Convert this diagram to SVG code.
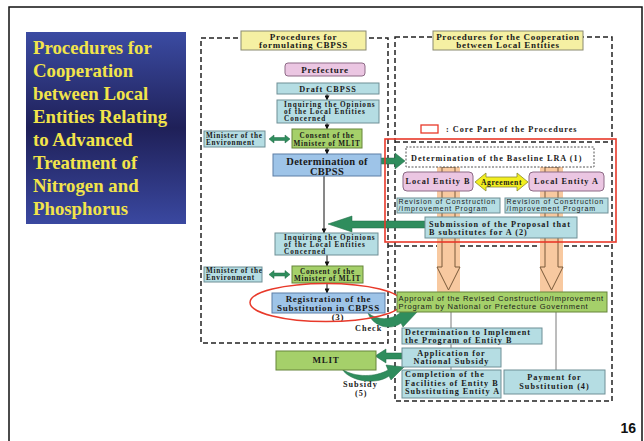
<svg xmlns="http://www.w3.org/2000/svg" width="644" height="441" viewBox="0 0 644 441">
  <defs>
    <linearGradient id="titleGrad" x1="0" y1="0" x2="0" y2="1">
      <stop offset="0" stop-color="#3b4ba2"/>
      <stop offset="0.5" stop-color="#1f2058"/>
      <stop offset="1" stop-color="#3a48a0"/>
    </linearGradient>
    <marker id="tip" viewBox="0 0 6 6" refX="5.5" refY="3" markerWidth="5" markerHeight="5" orient="auto">
      <path d="M0,0 L6,3 L0,6 Z" fill="#111"/>
    </marker>
    <style>
      .serif { font-family: "Liberation Serif", "Times New Roman", serif; font-weight: bold; fill: #1a1a1a; }
      .sans { font-family: "Liberation Sans", Arial, sans-serif; fill: #1a1a1a; }
      .s7 { font-size: 7.2px; letter-spacing: 0.95px; }
      .s7b { font-size: 7.2px; letter-spacing: 0.75px; }
      .s8 { font-size: 8.2px; letter-spacing: 1px; }
      .s9 { font-size: 9px; letter-spacing: 0.75px; }
      .s10 { font-size: 10.5px; letter-spacing: 0.3px; }
      .sa { font-size: 7px; letter-spacing: 0.9px; }
      .sa2 { font-size: 7.6px; letter-spacing: 0.7px; }
      .mid { text-anchor: middle; }
      .teal { fill: #b5dde3; stroke: #6f8f96; stroke-width: 1; }
      .green { fill: #a5d06a; stroke: #66853a; stroke-width: 1; }
      .blue { fill: #9ec4e8; stroke: #5d7ea6; stroke-width: 1; }
      .pink { fill: #ebc6e2; stroke: #8d6a86; stroke-width: 1; }
      .yellow { fill: #f5f0a3; stroke: #8a8a70; stroke-width: 1; }
      .dash { fill: none; stroke: #222; stroke-width: 1.5; stroke-dasharray: 5 3; }
      .flow { stroke: #111; stroke-width: 1; fill: none; marker-end: url(#tip); }
      .garrow { fill: #2f8d5d; stroke: #1f6a44; stroke-width: 0.5; }
      .core { fill: none; stroke: #e8392a; stroke-width: 1.6; }
      .bar { fill: #f8c9a0; }
      .hollow { fill: none; stroke: #7a5a3a; stroke-width: 1; }
      .gline { stroke: #7a7a7a; stroke-width: 1; }
    </style>
  </defs>

  <!-- slide frame -->
  <rect x="9" y="7" width="633" height="440" fill="#fff" stroke="#111" stroke-width="1.5"/>

  <!-- title panel -->
  <g id="title">
    <rect x="26" y="32" width="160" height="192" fill="url(#titleGrad)"/>
    <g font-family="'Liberation Serif', 'Times New Roman', serif" font-weight="bold" font-size="18.8" fill="#f2e44a">
      <text x="33" y="54">Procedures for</text>
      <text x="33" y="77">Cooperation</text>
      <text x="33" y="100">between Local</text>
      <text x="33" y="123">Entities Relating</text>
      <text x="33" y="146">to Advanced</text>
      <text x="33" y="169">Treatment of</text>
      <text x="33" y="192">Nitrogen and</text>
      <text x="33" y="215">Phosphorus</text>
    </g>
  </g>

  <!-- section frames -->
  <g id="frames">
    <rect class="dash" x="201" y="38" width="187" height="305"/>
    <rect class="dash" x="395" y="37" width="217" height="364"/>
    <line class="dash" x1="395" y1="142" x2="612" y2="142"/>
    <line class="dash" x1="388" y1="246" x2="612" y2="246"/>
  </g>

  <!-- hollow arrows from the two entities down to the approval -->
  <g id="flows-down">
    <rect class="bar" x="437" y="167" width="23" height="125"/>
    <path class="hollow" d="M442,167 H455 M442,167 V267 H437 L448.5,290 L460,267 H455 V167"/>
    <rect class="bar" x="540" y="167" width="23" height="125"/>
    <path class="hollow" d="M545,167 H558 M545,167 V267 H540 L551.5,290 L563,267 H558 V167"/>
  </g>

  <!-- connectors -->
  <g id="connectors">
    <line class="flow" x1="327" y1="94" x2="327" y2="100"/>
    <line class="flow" x1="327" y1="123" x2="327" y2="129"/>
    <line class="flow" x1="327" y1="148" x2="327" y2="154"/>
    <line class="flow" x1="324" y1="176" x2="324" y2="233"/>
    <line class="flow" x1="327" y1="255" x2="327" y2="266"/>
    <line class="flow" x1="327" y1="283" x2="327" y2="293"/>
    <line class="gline" x1="451" y1="312" x2="451" y2="370"/>
    <line class="gline" x1="556" y1="312" x2="556" y2="370"/>
    <!-- Environment <-> MLIT consent -->
    <path class="garrow" d="M269,139 L274,135 V137.5 H285 V135 L290,139 L285,143 V140.5 H274 V143 Z"/>
    <path class="garrow" d="M269,274.5 L274,270.5 V273 H285 V270.5 L290,274.5 L285,278.5 V276 H274 V278.5 Z"/>
    <!-- CBPSS -> baseline LRA -->
    <path class="garrow" d="M381,158 H395 V153 L405,161 L395,169 V164 H381 Z"/>
    <!-- proposal -> CBPSS -->
    <path class="garrow" d="M425,221 H352 V216 L328,224 L352,232 V228 H425 Z"/>
    <!-- application -> MLIT -->
    <path class="garrow" d="M402,353 H386 V349 L375,356 L386,363 V359 H402 Z"/>
    <!-- check -->
    <path class="garrow" d="M368,313 C373,327 391,331 401,323 L403,327 L418,311 L398,308 L400,313 C391,320 378,321 368,313 Z"/>
    <!-- subsidy -->
    <path class="garrow" d="M342,369 C350,382 377,385 389,376 L391,380 L404,367 L386,365 L388,370 C376,377 355,378 342,369 Z"/>
  </g>

  <!-- left column -->
  <g id="hdr-left">
    <rect class="yellow" x="241" y="31" width="125" height="19"/>
    <text class="serif s9 mid" x="303.5" y="39.5">Procedures for</text>
    <text class="serif s9 mid" x="303.5" y="48">formulating CBPSS</text>
  </g>
  <g id="prefecture">
    <rect class="pink" x="285" y="63" width="80" height="13" rx="3"/>
    <text class="serif s9 mid" x="325" y="72.5">Prefecture</text>
  </g>
  <g id="draft">
    <rect class="teal" x="277" y="83" width="102" height="11"/>
    <text class="serif s8 mid" x="328" y="92">Draft CBPSS</text>
  </g>
  <g id="inquire1">
    <rect class="teal" x="277" y="100" width="102" height="23"/>
    <text class="serif s7" x="284" y="106.8">Inquiring the Opinions</text>
    <text class="serif s7" x="284" y="114">of the Local Entities</text>
    <text class="serif s7" x="284" y="121.2">Concerned</text>
  </g>
  <g id="env1">
    <rect class="teal" x="204" y="131" width="61" height="16"/>
    <text class="serif s7b" x="206" y="137.5">Minister of the</text>
    <text class="serif s7b" x="206" y="144.7">Environment</text>
  </g>
  <g id="consent1">
    <rect class="green" x="292" y="129" width="70" height="19"/>
    <text class="serif s7b mid" x="327" y="137.5">Consent of the</text>
    <text class="serif s7b mid" x="327" y="145.5">Minister of MLIT</text>
  </g>
  <g id="determine-cbpss">
    <rect class="blue" x="273" y="154" width="108" height="22"/>
    <text class="serif s10 mid" x="327" y="164.5">Determination of</text>
    <text class="serif s10 mid" x="327" y="175">CBPSS</text>
  </g>
  <g id="inquire2">
    <rect class="teal" x="275" y="233" width="103" height="22"/>
    <text class="serif s7" x="284" y="239.8">Inquiring the Opinions</text>
    <text class="serif s7" x="284" y="247">of the Local Entities</text>
    <text class="serif s7" x="284" y="254.2">Concerned</text>
  </g>
  <g id="env2">
    <rect class="teal" x="204" y="267" width="58" height="15"/>
    <text class="serif s7b" x="206" y="273">Minister of the</text>
    <text class="serif s7b" x="206" y="280.2">Environment</text>
  </g>
  <g id="consent2">
    <rect class="green" x="292" y="266" width="71" height="17"/>
    <text class="serif s7b mid" x="327.5" y="273.5">Consent of the</text>
    <text class="serif s7b mid" x="327.5" y="281">Minister of MLIT</text>
  </g>
  <g id="registration">
    <rect class="blue" x="272" y="293" width="113" height="20"/>
    <text class="serif s9 mid" x="328.5" y="301.5">Registration of the</text>
    <text class="serif s9 mid" x="328.5" y="310.5">Substitution in CBPSS</text>
    <text class="serif s9 mid" x="338" y="320">(3)</text>
    <ellipse cx="326" cy="302.5" rx="76" ry="19" fill="none" stroke="#e8392a" stroke-width="1.5"/>
  </g>
  <text class="serif s8" x="355" y="331">Check</text>
  <g id="mlit">
    <rect class="green" x="276" y="351" width="100" height="19"/>
    <text class="serif s9 mid" x="326" y="363">MLIT</text>
  </g>
  <text class="serif s8" x="343" y="387">Subsidy</text>
  <text class="serif s8" x="355" y="395.5">(5)</text>

  <!-- right column -->
  <g id="hdr-right">
    <rect class="yellow" x="433" y="31" width="150" height="19"/>
    <text class="serif s9 mid" x="508" y="39.5">Procedures for the Cooperation</text>
    <text class="serif s9 mid" x="508" y="48">between Local Entities</text>
  </g>
  <g id="legend">
    <rect x="421" y="125" width="17" height="8" fill="#fff" stroke="#e8392a" stroke-width="1.3"/>
    <text class="serif s8" x="446" y="131.5">: Core Part of the Procedures</text>
  </g>
  <rect id="core" class="core" x="385" y="139" width="231" height="103"/>
  <g id="baseline-lra">
    <rect x="406" y="147" width="188" height="20" fill="#fff" stroke="#555" stroke-width="1" stroke-dasharray="2 1.5"/>
    <text class="serif s8" x="411" y="160.5">Determination of the Baseline LRA (1)</text>
  </g>
  <g id="entity-b">
    <rect class="pink" x="403" y="172" width="70" height="19" rx="4"/>
    <text class="serif s8 mid" x="438" y="184">Local Entity B</text>
  </g>
  <g id="agreement">
    <path d="M475,182 L486,173 V177 H517 V173 L528,182 L517,191 V187 H486 V191 Z" fill="#f2ee20" stroke="#8a8a30" stroke-width="0.8"/>
    <text class="serif mid" x="501.5" y="184.5" font-size="7.6" letter-spacing="0.6">Agreement</text>
  </g>
  <g id="entity-a">
    <rect class="pink" x="529" y="172" width="75" height="19" rx="4"/>
    <text class="serif s8 mid" x="566.5" y="184">Local Entity A</text>
  </g>
  <g id="revise-b">
    <rect class="teal" x="397" y="198" width="103" height="15"/>
    <text class="sans sa" x="398.5" y="204.3">Revision of Construction</text>
    <text class="sans sa" x="398.5" y="211.4">/Improvement Program</text>
  </g>
  <g id="revise-a">
    <rect class="teal" x="505" y="198" width="103" height="15"/>
    <text class="sans sa" x="506.5" y="204.3">Revision of Construction</text>
    <text class="sans sa" x="506.5" y="211.4">/Improvement Program</text>
  </g>
  <g id="proposal">
    <rect class="teal" x="425" y="217" width="152" height="21"/>
    <text class="serif s8" x="429" y="226.5">Submission of the Proposal that</text>
    <text class="serif s8" x="429" y="235">B substitutes for A (2)</text>
  </g>
  <g id="approval">
    <rect class="green" x="397" y="292" width="210" height="20"/>
    <text class="sans sa2" x="398.5" y="300.5">Approval of the Revised Construction/Improvement</text>
    <text class="sans sa2" x="398.5" y="309">Program by National or Prefecture Government</text>
  </g>
  <g id="implement">
    <rect class="teal" x="402" y="328" width="140" height="16"/>
    <text class="serif s8" x="405" y="335">Determination to Implement</text>
    <text class="serif s8" x="405" y="343.2">the Program of Entity B</text>
  </g>
  <g id="application">
    <rect class="teal" x="402" y="348" width="99" height="19"/>
    <text class="serif s8 mid" x="451.5" y="356">Application for</text>
    <text class="serif s8 mid" x="451.5" y="364.3">National Subsidy</text>
  </g>
  <g id="completion">
    <rect class="teal" x="402" y="370" width="99" height="28"/>
    <text class="serif s8" x="405" y="377.2">Completion of the</text>
    <text class="serif s8" x="405" y="385.5">Facilities of Entity B</text>
    <text class="serif s8" x="405" y="393.8">Substituting  Entity A</text>
  </g>
  <g id="payment">
    <rect class="teal" x="504" y="370" width="101" height="24"/>
    <text class="serif s8 mid" x="554.5" y="379.5">Payment for</text>
    <text class="serif s8 mid" x="554.5" y="388.5">Substitution (4)</text>
  </g>

  <text x="636" y="433" text-anchor="end" font-family="'Liberation Sans', Arial, sans-serif" font-weight="bold" font-size="14" fill="#111">16</text>
</svg>
